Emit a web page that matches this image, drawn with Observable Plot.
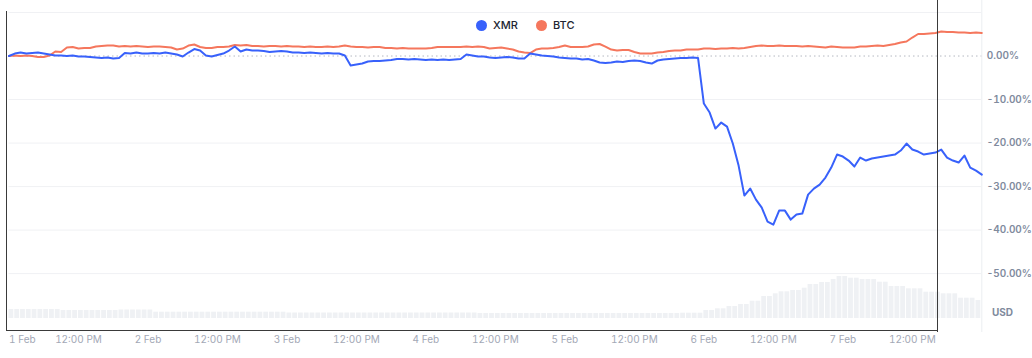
<!DOCTYPE html>
<html>
<head>
<meta charset="utf-8">
<script src="https://cdn.jsdelivr.net/npm/d3@7"></script>
<script src="https://cdn.jsdelivr.net/npm/@observablehq/plot@0.6"></script>
<style>
  html, body { margin: 0; padding: 0; background: #ffffff; }
  body { font-family: Inter, "Noto Sans", sans-serif; }
  #wrap { position: relative; width: 1032px; height: 358px; overflow: hidden; }
  #wrap svg { position: absolute; left: 0; top: 0; }
  .leg { position: absolute; top: 18px; display: flex; align-items: center; font-size: 11px; font-weight: 500; color: #222531; height: 14px; }
  .leg .dot { width: 11px; height: 11px; border-radius: 50%; margin-right: 6px; }
  #usd { position: absolute; left: 992px; top: 306px; font-size: 10px; font-weight: 700; color: #808a9d; }
  .fr { position: absolute; border-color: #3a3a3a; border-style: solid; border-width: 0; pointer-events: none; }
</style>
</head>
<body>
<div id="wrap"></div>
<script>
// ---- Data (hourly, from 1 Feb 00:00 to 8 Feb 00:00) ----
const seriesNames = ["XMR", "BTC"];
const seriesColors = ["#3861fb", "#f5775d"];

// XMR % change vs start, hourly
const xmrPct = [
  0, 0.57, 0.80, 0.57, 0.69, 0.80, 0.57, 0.34, 0.11, 0.11, 0, 0.11,
  -0.11, -0.11, -0.23, -0.34, -0.46, -0.34, -0.57, -0.46, 0.69, 0.57, 0.80, 0.57,
  0.57, 0.69, 0.57, 0.80, 0.57, 0.34, -0.11, 0.80, 1.61, 1.26, 0.11, -0.11,
  0.23, 0.57, 1.26, 2.18, 1.03, 1.49, 1.26, 1.26, 1.15, 0.92, 1.03, 1.15,
  1.03, 0.80, 0.80, 0.69, 0.80, 0.69, 0.57, 0.69, 0.57, 0.57, 0.11, -2.18,
  -1.95, -1.72, -1.26, -1.15, -1.15, -1.03, -0.92, -0.69, -0.69, -0.80, -0.69, -0.80,
  -0.92, -0.80, -0.92, -0.80, -0.92, -0.80, -0.69, 0.34, 0.11, -0.11, -0.11, -0.34,
  -0.46, -0.34, -0.23, -0.34, -0.57, -0.57, 0.57, 0.34, 0.11, 0, -0.11, -0.34,
  -0.46, -0.57, -0.57, -0.80, -0.69, -1.03, -1.49, -1.61, -1.49, -1.26, -1.38, -1.15,
  -1.03, -1.15, -1.49, -1.72, -1.03, -0.80, -0.69, -0.57, -0.46, -0.46, -0.34, -0.46,
  -10.92, -12.99, -16.67, -15.29, -16.21, -20.11, -25.17, -32.07, -30.46, -32.99, -34.83, -38.05,
  -38.74, -35.52, -35.52, -37.59, -36.44, -36.21, -31.84, -30.46, -29.54, -27.93, -25.63, -22.64,
  -23.10, -24.02, -25.40, -23.33, -24.02, -23.56, -23.33, -23.10, -22.87, -22.64, -21.72, -20.11,
  -21.49, -21.95, -22.64, -22.41, -22.18, -21.49, -23.33, -24.02, -24.48, -22.87, -25.63, -26.32,
  -27.24
];

// BTC % change vs start, hourly
const btcPct = [
  0, 0.11, 0, 0.11, 0, -0.23, -0.23, 0.11, 1.03, 0.92, 1.95, 2.07,
  1.72, 1.84, 1.84, 2.18, 2.30, 2.41, 2.41, 2.18, 2.30, 2.18, 2.30, 2.18,
  2.07, 2.18, 2.18, 2.07, 1.95, 1.49, 1.72, 2.41, 2.64, 2.07, 1.84, 1.84,
  2.07, 2.07, 2.18, 2.53, 2.41, 2.53, 2.30, 2.30, 2.18, 2.30, 2.30, 2.18,
  2.30, 2.18, 2.18, 2.07, 2.18, 2.07, 2.07, 2.18, 2.07, 2.18, 2.41, 2.18,
  2.07, 2.07, 1.95, 2.07, 2.07, 1.84, 1.84, 1.72, 1.84, 1.72, 1.72, 1.72,
  1.72, 1.84, 2.07, 2.07, 2.07, 2.07, 2.07, 2.18, 2.07, 2.18, 2.07, 1.72,
  1.84, 1.95, 1.72, 1.49, 1.03, 0.80, 0.69, 1.49, 1.72, 1.72, 1.84, 2.07,
  2.41, 2.07, 2.07, 2.07, 2.18, 2.64, 2.76, 2.18, 1.49, 1.26, 1.38, 1.38,
  0.92, 0.57, 0.57, 0.57, 0.80, 0.92, 1.15, 1.26, 1.26, 1.49, 1.49, 1.49,
  1.72, 1.72, 1.61, 1.72, 1.72, 1.84, 1.72, 1.84, 2.07, 2.30, 2.41, 2.30,
  2.30, 2.41, 2.30, 2.30, 2.30, 2.18, 2.30, 2.18, 2.07, 1.95, 2.18, 2.07,
  1.95, 1.95, 1.95, 2.18, 2.18, 2.30, 2.41, 2.30, 2.53, 2.76, 3.10, 3.33,
  4.25, 5.06, 5.06, 5.17, 5.29, 5.63, 5.52, 5.52, 5.40, 5.40, 5.29, 5.40,
  5.29
];

// XMR traded volume (relative units), hourly bars
const volume = [
  9, 9, 9, 9, 9, 9, 9, 9, 9, 8, 8, 8,
  8, 8, 8, 8, 8, 8, 8, 8.5, 8.5, 8.5, 8.5, 8.5,
  8.5, 6.3, 6.3, 6.3, 6.3, 6.3, 6.3, 6.3, 6.3, 6.3, 6.3, 6.3,
  6.3, 6.3, 6.3, 6.3, 6.3, 6.3, 6.3, 6.3, 6.3, 6.3, 6.3, 6.3,
  5.5, 5.5, 5.5, 5.5, 5.5, 5.5, 5.5, 5.5, 5.5, 5.5, 5.5, 5.5,
  5.5, 5.5, 5.5, 5.5, 5.5, 5.5, 5.5, 5.5, 5.5, 5.5, 5.5, 5.5,
  5.5, 5.5, 5.5, 5.5, 5.5, 5.5, 5.5, 5.5, 5.5, 5, 5, 5,
  5, 5, 5, 5, 5, 5, 5, 5, 5, 5, 5, 5,
  5, 5, 5, 5, 5, 5, 5, 5, 5, 5, 5, 5,
  5, 5, 5, 5, 5, 5, 5, 5, 5.3, 5.3, 5.3, 5.3,
  8, 8, 9.7, 9.7, 12, 12, 14, 14, 17.3, 17.3, 22, 22,
  24.7, 26.7, 26.7, 28, 28, 30.3, 34, 34, 36, 36, 39, 42,
  42, 40.3, 40.3, 39, 39, 39, 36.3, 36.3, 32, 32, 32, 29.7,
  29.7, 29.7, 26.3, 26.3, 26.3, 24.7, 24.7, 24.7, 20.3, 20.3, 20.3, 18
];

const tickHours = [0, 12, 24, 36, 48, 60, 72, 84, 96, 108, 120, 132, 144, 156];
const tickLabels = ["1 Feb", "12:00 PM", "2 Feb", "12:00 PM", "3 Feb", "12:00 PM", "4 Feb",
                    "12:00 PM", "5 Feb", "12:00 PM", "6 Feb", "12:00 PM", "7 Feb", "12:00 PM"];
const yTicks = [0, -10, -20, -30, -40, -50];
const gridLevels = [10, -10, -20, -30, -40, -50];

// ---- Build tables ----
const T0 = Date.UTC(2025, 1, 1, 0, 0);
const HOUR = 3600 * 1000;
const times = xmrPct.map((_, i) => new Date(T0 + i * HOUR));
const rows = times.map((t, i) => ({t, xmr: xmrPct[i], btc: btcPct[i]}));
const volRows = volume.map((v, i) => ({t1: times[i], t2: times[i + 1], v}));
const tickDates = tickHours.map(h => new Date(T0 + h * HOUR));
const labelOf = new Map(tickDates.map((d, i) => [+d, tickLabels[i]]));

const W = 1032, H = 358;
const mL = 8.5, mR = 50.7;
const xDomain = [times[0], times[times.length - 1]];

// Volume layer (behind)
const volPlot = Plot.plot({
  width: W, height: H,
  marginLeft: mL, marginRight: mR, marginTop: 258, marginBottom: 40,
  style: {background: "transparent"},
  x: {type: "utc", domain: xDomain, axis: null},
  y: {domain: [0, 60], axis: null},
  marks: [
    Plot.rectY(volRows, {x1: "t1", x2: "t2", y: "v", fill: "#eff1f4", insetRight: 1})
  ]
});

// Main layer
const axisTextX = {anchor: "bottom", tickSize: 0, tickPadding: 4, fontSize: 10, fill: "#a3a8b6",
                   label: null, tickFormat: d => labelOf.get(+d)};
const mainPlot = Plot.plot({
  width: W, height: H,
  marginLeft: mL, marginRight: mR, marginTop: 0, marginBottom: 27,
  style: {background: "transparent", fontFamily: "Inter, 'Noto Sans', sans-serif", overflow: "visible"},
  x: {type: "utc", domain: xDomain, label: null},
  y: {domain: [-63.3, 12.76], label: null},
  marks: [
    Plot.frame({anchor: "right", stroke: "#eceef1"}),
    Plot.ruleY(gridLevels, {stroke: "#f0f1f4"}),
    Plot.ruleY([0], {stroke: "#b4b8c2", strokeDasharray: "1.5,3"}),
    Plot.line(rows, {x: "t", y: "btc", stroke: seriesColors[1], strokeWidth: 2, curve: "linear"}),
    Plot.line(rows, {x: "t", y: "xmr", stroke: seriesColors[0], strokeWidth: 2, curve: "linear"}),
    Plot.axisY(yTicks, {anchor: "right", tickSize: 0, tickPadding: 5, textAnchor: "start",
                        fontSize: 10, fontWeight: 600, fill: "#808a9d", label: null,
                        tickFormat: d => d.toFixed(2) + "%"}),
    Plot.axisX(tickDates.slice(0, 1), {...axisTextX, textAnchor: "start"}),
    Plot.axisX(tickDates.slice(1), axisTextX)
  ]
});

const wrap = document.getElementById("wrap");
wrap.appendChild(volPlot);
wrap.appendChild(mainPlot);

// Legend
const legendPos = [476, 536];
seriesNames.forEach((name, i) => {
  const item = document.createElement("div");
  item.className = "leg";
  item.style.left = legendPos[i] + "px";
  const dot = document.createElement("span");
  dot.className = "dot";
  dot.style.background = seriesColors[i];
  const txt = document.createElement("span");
  txt.textContent = name;
  item.appendChild(dot);
  item.appendChild(txt);
  wrap.appendChild(item);
});

// Currency label
const usd = document.createElement("div");
usd.id = "usd";
usd.textContent = "USD";
wrap.appendChild(usd);

// Selection frame lines seen in the reference
const f1 = document.createElement("div");
f1.className = "fr";
Object.assign(f1.style, {left: "6px", top: "11px", width: "931px", height: "319px",
  borderLeftWidth: "1.5px", borderBottomWidth: "1.5px"});
wrap.appendChild(f1);
const f2 = document.createElement("div");
f2.className = "fr";
Object.assign(f2.style, {left: "937px", top: "0px", width: "0px", height: "331.5px",
  borderLeftWidth: "1.5px"});
wrap.appendChild(f2);
</script>
</body>
</html>
